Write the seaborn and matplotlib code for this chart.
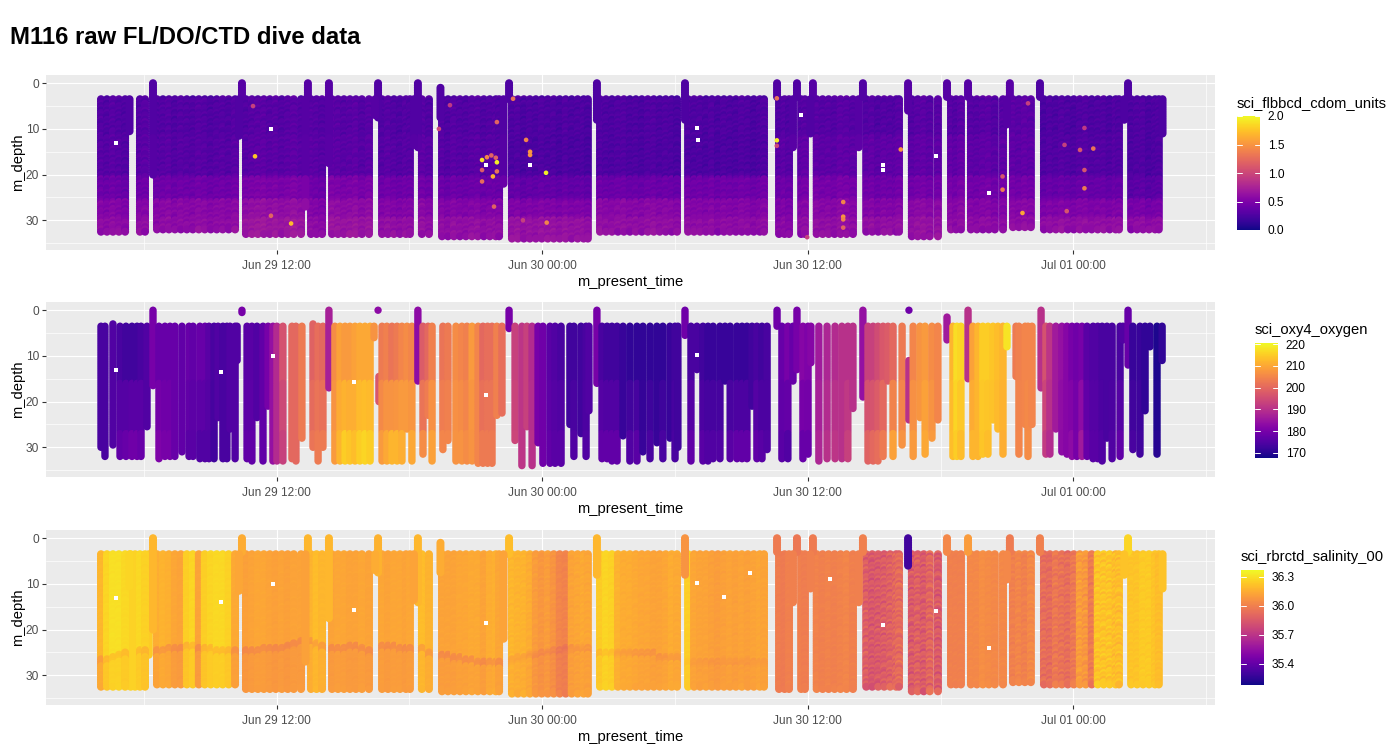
import numpy as np
import pandas as pd

import matplotlib
matplotlib.use("Agg")
import matplotlib.pyplot as plt
import seaborn as sns

####################################################################
# times are hours after Jun 29 00:00, depths are metres

tick_hours = [12, 24, 36, 48]
tick_labels = ["Jun 29 12:00", "Jun 30 00:00", "Jun 30 12:00", "Jul 01 00:00"]
minor_hours = [6, 18, 30, 42, 54]
depth_ticks = [0, 10, 20, 30]
minor_depths = [5, 15, 25, 35]

depth_levels = [0.0, 0.5, 1.0, 1.5, 2.0, 2.5, 3.0, 3.5, 4.0, 4.5, 5.0, 5.5, 6.0, 6.5, 7.0, 7.5, 8.0, 8.5,
                9.0, 9.5, 10.0, 10.5, 11.0, 11.5, 12.0, 12.5, 13.0, 13.5, 14.0, 14.5, 15.0, 15.5, 16.0, 16.5,
                17.0, 17.5, 18.0, 18.5, 19.0, 19.5, 20.0, 20.5, 21.0, 21.5, 22.0, 22.5, 23.0, 23.5, 24.0,
                24.5, 25.0, 25.5, 26.0, 26.5, 27.0, 27.5, 28.0, 28.5, 29.0, 29.5, 30.0, 30.5, 31.0, 31.5,
                32.0, 32.5, 33.0, 33.5, 34.0, 34.5, 35.0]

# speckle seen in the point clouds, one shift per depth level and one per cast
level_shift = [.01, -.03, .02, .04, -.02, -.04, .03, .00, -.01, .04, -.03, .02, -.05, .01, .03, -.02,
               .05, -.01, -.04, .02, .00, .03, -.03, .04, -.02, .01, -.05, .03, .02, -.01, .04, -.04,
               .00, .02, -.03, .05, -.02, .01, .03, -.04, .02, -.01, .04, -.03, .00, .03, -.05, .02,
               .04, -.02, -.01, .03, -.04, .05, .01, -.03, .02, .00, -.02, .04, -.05, .03, .01, -.01,
               .04, -.03, .02, -.04, .03, .00, -.02]
cast_shift = [.01, -.01, .02, .00, -.02, .01, .02, -.01, .00, .02, -.02, .01, .00, -.01, .02, .01,
              -.02, .00, .01, -.01, .02, -.02, .00, .01, .02, -.01, .01, -.02, .00, .02, -.01, .01,
              .00, -.02, .02, .01, -.01, .00, .02, -.02, .01, -.01, .02, .00, -.02, .01, .00, .02,
              -.01, .01, -.02, .02, .00, -.01, .01, .02, -.02, .00, .01, -.01, .00, .02, -.02, .01,
              -.01, .02, .00, .01, -.02, .02, -.01, .00, .01, -.02, .02, .00, -.01, .01, .02, -.01,
              .00, -.02, .01, .02, -.01, .01, .00, -.02, .02, .00, .01, -.01, .02, -.02, .01, .00,
              -.01, .02, .01, -.02, .00, .02, -.01, .01, -.02, .00, .02, .01, -.01, .00, -.02, .02,
              .01, -.01, .00, .02, -.02, .01, .00, -.01, .02, -.02, .01, .02, -.01, .00, .01, -.02,
              .02, .00, -.01, .01, .02, -.02, .00, .01, -.01, .02, .00, -.02, .01, -.01, .02, .00,
              -.02, .01, .02, -.01, .00, .01, -.02, .02, .00, -.01, .01, .02, -.02, .00, .01, -.01]

# casts grouped in the blocks between the gaps, shared by the cdom and salinity panels
cast_hours = [
    [4.06, 4.33, 4.60, 4.87, 5.15],
    [5.82, 6.05],
    [6.59, 6.86, 7.13, 7.40, 7.67, 7.94, 8.21, 8.48, 8.75, 9.02, 9.29, 9.56, 9.83, 10.12],
    [10.61, 10.88, 11.15, 11.42, 11.69, 11.96, 12.23, 12.50, 12.77, 13.10],
    [13.55, 13.80, 14.05],
    [14.50, 14.77, 15.04, 15.31, 15.58, 15.85, 16.17],
    [16.76, 17.03, 17.30, 17.57, 17.84, 18.02],
    [18.56, 18.88],
    [19.47, 19.74, 20.01, 20.28, 20.55, 20.82, 21.09, 21.36, 21.63, 21.90, 22.05],
    [22.63, 22.90, 23.17, 23.44, 23.71, 23.98, 24.25, 24.52, 24.79, 25.06, 25.33, 25.60, 25.87, 26.06],
    [26.61, 26.88, 27.15, 27.42, 27.69, 27.96, 28.23, 28.50, 28.77, 29.04, 29.31, 29.58, 29.85, 30.09],
    [30.59, 30.86, 31.13, 31.40, 31.67, 31.94, 32.21, 32.48, 32.75, 33.02, 33.29, 33.56, 33.83, 34.02],
    [34.70, 34.95, 35.15],
    [35.70, 35.87],
    [36.40, 36.67, 36.94, 37.21, 37.48, 37.75, 38.04],
    [38.64, 38.91, 39.18, 39.45, 39.72, 39.99, 40.12],
    [40.70, 40.97, 41.24, 41.51, 41.88],
    [42.47, 42.70, 42.92],
    [43.37, 43.64, 43.91, 44.18, 44.45, 44.82],
    [45.27, 45.54, 45.81, 46.08],
    [46.67, 46.94, 47.21, 47.48, 47.75, 48.02, 48.29, 48.56, 48.83, 49.10, 49.37, 49.64, 49.91, 50.06],
    [50.61, 50.88, 51.15, 51.42, 51.69, 51.86],
]
block_bottom = [32.8, 32.8, 32.4, 33.0, 33.2, 33.2, 33.0, 33.0, 33.6, 34.0, 32.6,
                32.6, 33.0, 33.2, 33.0, 32.6, 33.5, 32.0, 32.0, 31.8, 32.0, 32.0]

# cdom by block, for the depth bands that end at cdom_band_floor
cdom_band_floor = [12, 21, 26, 30, 99]
cdom_shallow = [.28, .28, .28, .30, .30, .30, .28, .28, .28, .26, .26,
                .26, .28, .28, .30, .28, .30, .30, .30, .32, .26, .26]
cdom_mid = [.30, .30, .30, .32, .32, .32, .30, .32, .30, .25, .26,
            .25, .32, .34, .34, .34, .34, .36, .34, .34, .28, .26]
cdom_low = [.40, .40, .42, .48, .42, .48, .42, .42, .40, .36, .40,
            .42, .42, .44, .46, .42, .44, .46, .44, .44, .38, .32]
cdom_lower = [.52, .52, .55, .60, .52, .58, .52, .54, .52, .50, .55,
              .52, .50, .52, .55, .52, .56, .55, .52, .54, .50, .46]
cdom_deep = [.58, .58, .58, .66, .58, .64, .60, .60, .60, .62, .60,
             .58, .56, .58, .60, .60, .62, .58, .58, .58, .60, .58]

# single high readings
spot_hours = [11.02, 11.74, 12.65, 10.93, 19.83, 19.33, 22.68, 21.95, 23.27, 23.45, 23.45, 24.17, 21.28,
              21.50, 21.70, 21.90, 21.95, 21.95, 21.77, 21.28, 21.28, 21.82, 24.20, 23.13, 34.60, 34.60,
              34.60, 37.60, 37.60, 37.60, 37.60, 40.20, 35.97, 47.60, 48.50, 48.30, 48.90, 48.50, 48.50,
              47.70, 45.70, 44.80, 44.80, 45.95]
spot_depth = [16.0, 29.0, 30.7, 5.0, 4.8, 10.0, 3.4, 8.5, 12.4, 15.0, 15.7, 19.6, 16.8,
              16.2, 15.8, 16.3, 17.3, 19.3, 20.4, 19.0, 21.5, 27.0, 30.5, 30.0, 3.3, 12.5,
              13.7, 26.0, 29.2, 29.8, 31.6, 14.5, 33.7, 13.5, 9.8, 14.6, 14.3, 19.0, 23.0,
              28.0, 28.4, 23.3, 20.4, 4.4]
spot_cdom = [1.75, 1.2, 1.7, .95, .9, 1.0, 1.3, 1.2, 1.4, 1.5, 1.5, 1.95, 1.9,
             1.4, 1.2, 1.2, 1.95, 1.3, 1.65, 1.15, 1.25, 1.2, 1.4, .95, 1.3, 1.95,
             1.0, 1.4, 1.5, 1.4, 1.2, 1.5, .95, .95, .9, 1.1, 1.3, 1.1, 1.35,
             1.1, 1.6, 1.35, 1.1, .95]

# salinity by cast above the layer
salt_cast = [
    [36.18, 36.27, 36.30, 36.30, 36.28],
    [36.28, 36.26],
    [36.15, 36.17, 36.16, 36.13, 36.12, 36.25, 36.27, 36.12, 36.25, 36.27, 36.28, 36.28, 36.26, 36.14],
    [36.11, 36.12, 36.13, 36.13, 36.12, 36.11, 36.12, 36.11, 36.12, 36.12],
    [36.17, 36.20, 36.18],
    [36.12, 36.13, 36.13, 36.12, 36.12, 36.13, 36.12],
    [36.13, 36.12, 36.13, 36.13, 36.12, 36.13],
    [36.20, 36.17],
    [36.12, 36.12, 36.12, 36.13, 36.13, 36.14, 36.14, 36.12, 36.15, 36.16, 36.13],
    [36.18, 36.17, 36.17, 36.15, 36.10, 36.08, 36.10, 36.07, 36.02, 36.01, 36.12, 36.13, 36.14, 36.13],
    [36.24, 36.27, 36.26, 36.17, 36.15, 36.15, 36.14, 36.13, 36.13, 36.12, 36.12, 36.13, 36.15, 36.14],
    [36.25, 36.13, 36.12, 36.12, 36.11, 36.10, 36.11, 36.12, 36.11, 36.12, 36.11, 36.12, 36.13, 36.12],
    [35.99, 35.98, 36.00],
    [36.00, 35.99],
    [36.01, 36.00, 36.01, 36.00, 36.01, 36.02, 36.00],
    [35.87, 35.84, 35.85, 35.86, 35.88, 35.90, 35.92],
    [35.85, 35.88, 35.85, 35.90, 35.85],
    [36.00, 36.00, 36.00],
    [36.03, 36.03, 36.05, 36.04, 36.03, 36.03],
    [36.00, 36.02, 36.00, 36.03],
    [35.93, 35.92, 35.97, 35.95, 35.93, 35.97, 36.10, 36.08, 35.98, 36.22, 36.22, 36.22, 36.20, 36.20],
    [36.22, 36.22, 36.24, 36.24, 36.22, 36.20],
]
# depth of the fresher layer, only the first blocks show one
salt_layer_depth = [
    [26.5, 26.5, 26.0, 25.5, 25.0],
    [24.5, 24.5],
    [24.5, 24.5, 24.0, 24.0, 24.0, 23.5, 23.5, 24.0, 24.0, 24.0, 24.5, 24.5, 24.5, 24.5],
    [24.5, 24.5, 24.5, 24.0, 24.0, 24.0, 24.0, 23.5, 23.0, 22.5],
    [22.5, 23.0, 23.5],
    [24.0, 24.0, 24.0, 23.5, 23.5, 24.0, 24.5],
    [23.5, 23.5, 23.5, 24.0, 24.0, 24.0],
    [24.0, 25.0],
    [25.5, 25.5, 26.0, 26.0, 26.5, 26.5, 27.0, 27.0, 27.0, 27.0, 27.0],
    [26.5, 26.0, 26.0, 25.5, 25.5, 25.0, 25.0, 24.5, 24.5, 24.0, 24.0, 24.0, 24.0, 24.0],
    [25.0, 25.0, 25.0, 25.0, 25.0, 25.0, 25.0, 25.0, 25.0, 25.0, 26.0, 26.0, 26.0, 26.0],
    [27.0, 27.0, 27.0, 27.0, 27.0, 27.0, 27.0, 27.0, 27.0, 27.0, 27.0, 27.0, 27.0, 27.0],
]
salt_layer_drop = [.08, .08, .08, .08, .08, .08, .08, .08, .08, .05, .05, .03]
salt_deep_drop = [.04, .04, .03, .03, .02, .03, .03, .02, .02, .02, .01, .01]
# how speckled the salinity of each block is
salt_speckle = [.1, .1, .1, .1, .1, .1, .1, .1, .15, .3, .2, .2, .15, .15, .2, 1.2, 1.4, .2, .2, .5, .9, .3]

# short casts near the surface and the shelves on block edges
short_hours = [5.35, 6.41, 10.43, 10.30, 13.41, 13.30, 14.36, 16.58, 16.45, 18.38, 18.20, 19.40, 22.50, 22.25,
               26.47, 30.45, 34.61, 35.51, 36.23, 35.33, 36.12, 38.30, 38.49, 40.53, 42.29, 43.24, 45.13,
               45.00, 46.49, 50.47, 50.30, 52.03]
short_block = [0, 2, 3, 2, 4, 3, 5, 6, 5, 7, 6, 8, 9, 8,
               10, 11, 12, 13, 14, 12, 13, 14, 15, 16, 17, 18, 19,
               18, 20, 21, 20, 21]
short_top = [3.5, 0, 0, 3.5, 0, 3.5, 0, 0, 3.5, 0, 3.5, 1, 0, 3.5,
             0, 0, 0, 0, 0, 3.5, 3.5, 3.5, 0, 0, 0, 0, 0,
             3.5, 0, 0, 3.5, 3.5]
short_bottom = [10.5, 20, 3, 11.5, 3, 27, 17.5, 7.5, 7, 14, 13.5, 7.5, 3.5, 22,
                8, 8, 3, 3, 3, 14, 11, 14, 3, 6, 3, 3, 3,
                9, 3, 3, 8, 11]
short_salt = [36.27, 36.18, 36.15, 36.13, 36.18, 36.11, 36.18, 36.17, 36.15, 36.18, 36.12, 36.15, 36.20, 36.12,
              36.18, 36.07, 35.98, 35.97, 35.98, 36.00, 36.00, 36.00, 36.00, 35.30, 36.03, 36.10, 35.98,
              36.03, 36.00, 36.27, 36.22, 36.22]

# the ctd kept logging over the first gap
fill_hours = [5.40, 5.60, 6.22]
fill_bottom = [32.8, 32.8, 25.6]
fill_salt = [36.26, 36.26, 36.24]

# oxygen casts, each with its own depth span
oxy_hours = [4.06, 4.24, 4.60, 4.92, 5.19, 5.46, 5.69, 5.87, 6.14, 6.41,
             6.68, 6.95, 7.18, 7.40, 7.72, 8.04, 8.22, 8.53, 8.76, 8.94,
             9.17, 9.35, 9.57, 9.75, 9.89, 10.12, 10.21, 10.43, 10.66, 10.88,
             11.11, 11.38, 11.61, 11.83, 12.01, 12.28, 12.69, 12.87, 13.14, 13.64,
             13.87, 14.09, 14.36, 14.63, 14.86, 15.09, 15.31, 15.54, 15.76, 15.99,
             16.22, 16.40, 16.58, 16.62, 16.76, 16.98, 17.21, 17.44, 17.66, 17.89,
             18.11, 18.38, 18.61, 18.84, 19.02, 19.51, 19.74, 20.10, 20.37, 20.60,
             20.83, 21.10, 21.32, 21.53, 21.73, 21.95, 22.18, 22.50, 22.77, 23.08,
             23.31, 23.54, 23.81, 24.03, 24.35, 24.58, 24.85, 25.25, 25.43, 25.75,
             25.98, 26.11, 26.47, 26.70, 26.93, 27.15, 27.38, 27.65, 27.96, 28.28,
             28.55, 28.87, 29.18, 29.45, 29.77, 30.00, 30.13, 30.45, 30.72, 30.99,
             31.26, 31.49, 31.72, 32.03, 32.26, 32.49, 32.80, 33.03, 33.25, 33.48,
             33.70, 33.93, 34.16, 34.61, 34.83, 35.10, 35.33, 35.51, 35.78, 36.01,
             36.14, 36.50, 36.87, 37.23, 37.54, 37.81, 38.04, 38.49, 38.72, 38.95,
             39.17, 39.40, 39.62, 39.85, 40.26, 40.57, 40.57, 40.76, 41.07, 41.30,
             41.61, 41.88, 42.29, 42.56, 42.74, 42.92, 43.24, 43.46, 43.69, 43.91,
             44.14, 44.37, 44.59, 44.82, 45.00, 45.41, 45.54, 45.82, 45.95, 46.13,
             46.54, 46.76, 46.94, 47.21, 47.48, 47.71, 47.94, 48.16, 48.39, 48.62,
             48.89, 49.10, 49.30, 49.52, 49.75, 50.11, 50.24, 50.47, 50.69, 51.01,
             51.24, 51.46, 51.78, 52.01]
oxy_top = [3.5, 3.5, 3.0, 3.5, 3.5, 3.5, 3.5, 3.5, 3.5, 0,
           3.5, 3.5, 3.5, 3.5, 3.5, 3.5, 3.5, 3.5, 3.5, 3.5,
           3.5, 3.5, 3.5, 3.5, 3.5, 3.5, 3.5, 0, 3.5, 3.5,
           3.5, 3.5, 3.5, 3.5, 3.5, 3.5, 3.5, 3.5, 3.5, 3.0,
           3.5, 3.5, 0, 3.5, 3.5, 3.5, 3.5, 3.5, 3.5, 3.5,
           3.5, 3.5, 0, 14.5, 3.5, 3.5, 3.5, 3.5, 3.5, 3.5,
           3.5, 0, 3.5, 3.5, 3.5, 3.5, 3.5, 3.5, 3.5, 3.5,
           3.5, 3.5, 3.5, 3.5, 3.5, 3.5, 3.5, 0, 3.5, 3.5,
           3.5, 3.5, 3.5, 3.5, 3.5, 3.5, 3.5, 3.5, 3.5, 3.5,
           3.5, 3.5, 0, 3.5, 3.5, 3.5, 3.5, 3.5, 3.5, 3.5,
           3.5, 3.5, 3.5, 3.5, 3.5, 3.5, 3.5, 0, 3.5, 3.5,
           3.5, 3.5, 3.5, 3.5, 3.5, 3.5, 3.5, 3.5, 3.5, 3.5,
           3.5, 3.5, 3.5, 0, 3.5, 3.5, 3.5, 0, 3.5, 3.5,
           3.5, 3.5, 3.5, 3.5, 3.5, 3.5, 3.5, 0, 3.5, 3.5,
           3.5, 3.5, 3.5, 3.5, 3.5, 11, 0, 3.5, 3.5, 3.5,
           3.5, 3.5, 1.5, 3.5, 3.5, 3.5, 0, 3.5, 3.5, 3.5,
           3.5, 3.5, 3.5, 3.5, 3.5, 3.5, 3.5, 3.5, 3.5, 3.5,
           0, 3.5, 3.5, 3.5, 3.5, 3.5, 3.5, 3.5, 3.5, 3.5,
           3.5, 3.5, 3.5, 3.5, 3.5, 3.5, 3.5, 0, 3.5, 3.5,
           3.5, 3.5, 3.5, 3.5]
oxy_bottom = [30.2, 32.2, 29.6, 32.4, 32.4, 32.4, 32.4, 32.4, 25.6, 16.5,
              32.6, 32.4, 32.4, 32.0, 31.0, 32.4, 32.4, 32.6, 32.6, 32.6,
              32.6, 23.5, 32.6, 32.6, 26.0, 32.6, 11.0, 0.5, 32.7, 33.0,
              23.5, 33.0, 21.0, 33.0, 33.2, 33.2, 32.8, 33.0, 28.0, 30.0,
              33.0, 30.0, 17.0, 33.3, 33.3, 33.3, 33.3, 33.3, 33.3, 33.3,
              33.3, 6.0, 0.3, 20.0, 33.0, 33.0, 33.0, 33.0, 33.0, 26.0,
              33.0, 15.5, 31.5, 23.0, 33.0, 30.5, 28.5, 33.3, 33.3, 33.3,
              33.3, 33.6, 33.6, 33.6, 33.6, 23.0, 22.8, 4.0, 28.5, 34.0,
              25.5, 34.3, 29.0, 33.8, 33.8, 33.8, 33.8, 25.0, 32.0, 27.0,
              32.2, 22.0, 16.0, 32.5, 32.5, 33.0, 33.2, 27.5, 33.2, 33.2,
              31.0, 32.5, 29.0, 32.5, 28.0, 32.5, 30.0, 5.5, 33.0, 13.0,
              33.0, 33.0, 32.6, 32.6, 15.5, 32.6, 32.6, 32.6, 32.6, 21.0,
              32.6, 32.6, 30.5, 3.5, 32.6, 32.6, 15.5, 13.0, 32.6, 31.6,
              11.5, 33.0, 32.6, 32.6, 32.6, 32.6, 21.5, 19.0, 33.0, 33.0,
              33.0, 32.3, 15.5, 32.3, 29.5, 24.0, 0.3, 32.3, 23.5, 31.8,
              28.0, 24.0, 6.5, 32.0, 32.0, 32.0, 15.0, 32.0, 32.0, 31.5,
              31.5, 24.0, 26.0, 31.5, 8.0, 14.5, 31.5, 25.0, 32.0, 25.0,
              17.0, 31.5, 31.5, 26.0, 31.2, 31.8, 32.0, 32.0, 32.0, 32.0,
              32.5, 32.5, 33.0, 28.0, 32.5, 32.0, 6.5, 12.0, 30.5, 31.5,
              22.0, 8.0, 31.5, 11.0]
oxy_upper = [174, 174, 175, 174, 173, 173, 173, 174, 175, 180,
             178, 178, 178, 178, 177, 178, 177, 178, 178, 176,
             174, 175, 174, 174, 175, 175, 175, 180, 176, 176,
             175, 177, 180, 184, 189, 196, 200, 200, 203, 199,
             201, 200, 187, 206, 209, 208, 208, 209, 210, 210,
             210, 207, 183, 197, 203, 204, 202, 203, 205, 206,
             205, 183, 198, 200, 204, 202, 203, 206, 205, 204,
             208, 205, 200, 201, 201, 204, 201, 180, 193, 191,
             193, 189, 180, 179, 176, 175, 174, 173, 173, 173,
             174, 175, 180, 174, 173, 173, 173, 172, 171, 171,
             171, 171, 171, 171, 172, 173, 173, 179, 174, 174,
             173, 172, 172, 172, 172, 172, 172, 172, 172, 173,
             174, 173, 174, 179, 178, 180, 178, 180, 182, 181,
             182, 186, 188, 189, 190, 190, 190, 184, 193, 193,
             195, 197, 198, 200, 203, 190, 179, 205, 207, 208,
             206, 205, 186, 212, 217, 216, 190, 209, 212, 215,
             215, 214, 213, 212, 218, 203, 204, 205, 205, 205,
             190, 196, 191, 186, 184, 182, 180, 179, 180, 176,
             175, 175, 174, 174, 174, 174, 175, 178, 172, 172,
             171, 171, 169, 171]
oxy_deep = [174, 174, 175, 177, 178, 179, 179, 178, 175, 180,
            181, 180, 180, 178, 177, 176, 176, 175, 175, 175,
            173, 175, 174, 174, 175, 175, 175, 180, 177, 177,
            175, 177, 180, 184, 189, 193, 200, 200, 203, 202,
            203, 203, 187, 208, 212, 215, 214, 213, 215, 216,
            215, 207, 183, 197, 208, 210, 212, 212, 211, 210,
            210, 183, 206, 207, 209, 205, 205, 207, 207, 206,
            207, 205, 203, 203, 203, 204, 201, 180, 194, 191,
            193, 190, 180, 179, 177, 176, 176, 173, 175, 173,
            175, 175, 180, 177, 177, 177, 177, 172, 175, 176,
            172, 174, 172, 174, 172, 174, 173, 179, 177, 174,
            176, 175, 175, 175, 172, 176, 177, 177, 177, 173,
            177, 176, 175, 179, 176, 175, 178, 180, 178, 178,
            182, 188, 190, 191, 190, 193, 190, 184, 199, 200,
            201, 203, 198, 209, 207, 190, 179, 208, 208, 210,
            208, 205, 186, 213, 215, 213, 190, 212, 212, 214,
            213, 213, 212, 211, 218, 203, 205, 205, 206, 205,
            190, 192, 189, 186, 183, 182, 183, 180, 186, 178,
            176, 176, 175, 174, 175, 177, 175, 178, 174, 173,
            171, 171, 170, 171]

# missing samples that leave a white speck, per panel
hole_hours = [[4.74, 11.75, 21.45, 23.45, 31.00, 31.03, 35.70, 39.40, 39.40, 44.20, 41.80],
              [4.74, 11.85, 15.50, 9.50, 21.45, 31.00],
              [4.74, 11.85, 15.50, 9.50, 21.45, 31.00, 33.40, 32.20, 37.00, 39.40, 41.80, 44.20]]
hole_depth = [[13.0, 10.0, 18.0, 18.0, 9.8, 12.5, 6.9, 18.0, 19.0, 24.0, 16.0],
              [13.0, 10.0, 15.8, 13.5, 18.5, 9.8],
              [13.0, 10.0, 15.8, 14.0, 18.5, 9.8, 7.7, 12.9, 9.0, 19.0, 16.0, 24.0]]

####################################################################

panel_tops = [75, 302, 530]
legend_tops = [116, 343, 570]
legend_heights = [114, 115, 115]
legend_lefts = [1237, 1255, 1241]
legend_titles = ["sci_flbbcd_cdom_units", "sci_oxy4_oxygen", "sci_rbrctd_salinity_00"]
value_limits = [(0, 2), (167.7, 220.5), (35.18, 36.37)]
point_sizes = [33, 28, 33]
legend_ticks = [[0, 0.5, 1, 1.5, 2], [170, 180, 190, 200, 210, 220], [35.4, 35.7, 36.0, 36.3]]
legend_labels = [["0.0", "0.5", "1.0", "1.5", "2.0"],
                 ["170", "180", "190", "200", "210", "220"],
                 ["35.4", "35.7", "36.0", "36.3"]]


def cdom_value(block, depth):
    """
    Picks the cdom reading of a block for the band a depth falls in
    """
    bands = [cdom_shallow, cdom_mid, cdom_low, cdom_lower, cdom_deep]
    for floor, band in zip(cdom_band_floor, bands):
        if depth < floor:
            return band[block]
    return cdom_deep[block]


def salt_value(block, cast, depth):
    """
    Salinity of one cast, with the fresher layer and the water under it
    """
    value = salt_cast[block][cast]
    if block >= len(salt_layer_depth):
        return value
    layer = salt_layer_depth[block][cast]
    if layer <= depth < layer + 1.5:
        return value - salt_layer_drop[block]
    if depth >= layer + 1.5:
        return value - salt_deep_drop[block]
    return value


def build_cdom():
    rows = []
    count = 0
    for block, hours in enumerate(cast_hours):
        for hour in hours:
            for level, depth in enumerate(depth_levels):
                if 3.5 <= depth <= block_bottom[block]:
                    speck = level_shift[(level + 3 * count) % len(level_shift)]
                    rows.append((hour, depth, cdom_value(block, depth) + speck + cast_shift[count]))
            count += 1
    for hour, block, top, bottom in zip(short_hours, short_block, short_top, short_bottom):
        for depth in depth_levels:
            if top <= depth <= bottom:
                rows.append((hour, depth, cdom_value(block, depth)))
    return pd.DataFrame(rows, columns=["hour", "depth", "value"])


def build_oxygen():
    assert len(oxy_hours) == len(oxy_top) == len(oxy_bottom) == len(oxy_upper) == len(oxy_deep)
    rows = []
    for hour, top, bottom, upper, deep in zip(oxy_hours, oxy_top, oxy_bottom, oxy_upper, oxy_deep):
        for depth in depth_levels:
            if top <= depth <= bottom:
                if depth < 16:
                    value = upper
                elif depth < 27:
                    value = (upper + deep) / 2
                else:
                    value = deep
                rows.append((hour, depth, value))
    return pd.DataFrame(rows, columns=["hour", "depth", "value"])


def build_salinity():
    rows = []
    for hour, bottom, salt in zip(fill_hours, fill_bottom, fill_salt):
        for depth in depth_levels:
            if 3.5 <= depth <= bottom:
                rows.append((hour, depth, salt))
    count = 0
    for block, hours in enumerate(cast_hours):
        for cast, hour in enumerate(hours):
            for level, depth in enumerate(depth_levels):
                if 3.5 <= depth <= block_bottom[block]:
                    speck = level_shift[(level + 5 * count) % len(level_shift)] * salt_speckle[block]
                    rows.append((hour, depth, salt_value(block, cast, depth) + speck))
            count += 1
    for hour, top, bottom, salt in zip(short_hours, short_top, short_bottom, short_salt):
        for depth in depth_levels:
            if top <= depth <= bottom:
                rows.append((hour, depth, salt))
    return pd.DataFrame(rows, columns=["hour", "depth", "value"])


def draw_panel(fig, df, i):
    top = panel_tops[i]
    ax = fig.add_axes([46 / 1400, 1 - (top + 175) / 750, 1169 / 1400, 175 / 750])
    sns.scatterplot(data=df, x="hour", y="depth", hue="value", palette="plasma",
                    hue_norm=value_limits[i], s=point_sizes[i], linewidth=0, legend=False, ax=ax, zorder=3)
    if i == 0:
        spots = pd.DataFrame({"hour": spot_hours, "depth": spot_depth, "value": spot_cdom})
        sns.scatterplot(data=spots, x="hour", y="depth", hue="value", palette="plasma",
                        hue_norm=value_limits[i], s=11, linewidth=0, legend=False, ax=ax, zorder=4)
    holes = pd.DataFrame({"hour": hole_hours[i], "depth": hole_depth[i]})
    sns.scatterplot(data=holes, x="hour", y="depth", color="white", marker="s", s=9, linewidth=0,
                    legend=False, ax=ax, zorder=5)

    ax.set_xlim(1.575, 54.4)
    ax.set_ylim(36.5, -1.8)
    ax.set_xticks(tick_hours)
    ax.set_xticklabels(tick_labels)
    ax.set_yticks(depth_ticks)
    ax.set_xticks(minor_hours, minor=True)
    ax.set_yticks(minor_depths, minor=True)
    ax.grid(True, which="major", color="white", linewidth=0.85, zorder=1)
    ax.grid(True, which="minor", color="white", linewidth=0.5, zorder=1)
    ax.set_axisbelow(True)
    ax.tick_params(which="major", length=2.6, width=0.8, color="#333333", labelcolor="#4D4D4D",
                   labelsize=8.6, bottom=True, left=True)
    ax.tick_params(axis="x", which="major", pad=4.5)
    ax.tick_params(axis="y", which="major", pad=2.5)
    ax.tick_params(which="minor", length=0)
    ax.set_xlabel("m_present_time", fontsize=10.6, labelpad=2, color="black")
    ax.set_ylabel("m_depth", fontsize=10.6, labelpad=0.5, color="black")
    for spine in ax.spines.values():
        spine.set_visible(False)
    return ax


def draw_legend(fig, i):
    top = legend_tops[i]
    left = legend_lefts[i]
    height = legend_heights[i]
    cax = fig.add_axes([left / 1400, 1 - (top + height) / 750, 23 / 1400, height / 750])
    lo, hi = value_limits[i]
    sm = plt.cm.ScalarMappable(norm=plt.Normalize(lo, hi), cmap="plasma")
    bar = fig.colorbar(sm, cax=cax, ticks=legend_ticks[i])
    bar.outline.set_visible(False)
    bar.ax.set_yticklabels(legend_labels[i])
    bar.ax.tick_params(length=0, pad=5.5, labelsize=8.6, labelcolor="black")
    for val in legend_ticks[i]:
        bar.ax.plot([0, 0.2], [val, val], color="white", lw=0.7, clip_on=True)
        bar.ax.plot([0.8, 1], [val, val], color="white", lw=0.7, clip_on=True)
    fig.text(left / 1400, 1 - (top - 13) / 750, legend_titles[i], fontsize=10.6, va="center", ha="left",
             color="black")


sns.set_theme(style="darkgrid", rc={"axes.facecolor": "#EBEBEB", "figure.facecolor": "white"})
plt.rcParams["font.family"] = ["Liberation Sans", "DejaVu Sans"]

fig = plt.figure(figsize=(14, 7.5), dpi=100)
frames = [build_cdom(), build_oxygen(), build_salinity()]
for i, frame in enumerate(frames):
    draw_panel(fig, frame, i)
    draw_legend(fig, i)

fig.text(10 / 1400, 1 - 37 / 750, "M116 raw FL/DO/CTD dive data", fontsize=17.2, fontweight="bold",
         va="center", ha="left", color="black")

fig.savefig("out.png", dpi=100)
